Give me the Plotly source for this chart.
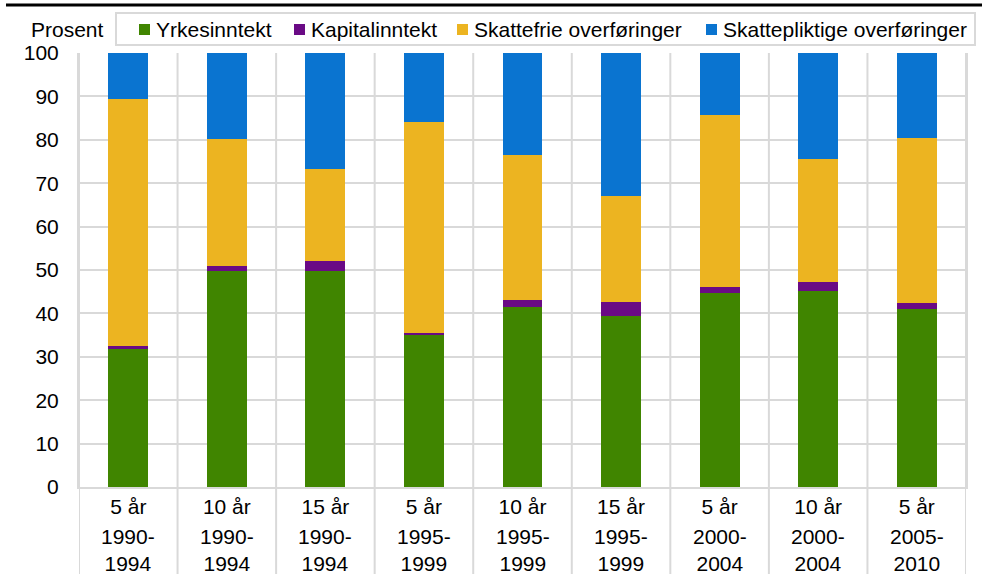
import plotly.graph_objects as go

# Categories: horizon and period
durations = ["5 år", "10 år", "15 år", "5 år", "10 år", "15 år", "5 år", "10 år", "5 år"]
periods = ["1990-<br>1994", "1990-<br>1994", "1990-<br>1994", "1995-<br>1999", "1995-<br>1999",
           "1995-<br>1999", "2000-<br>2004", "2000-<br>2004", "2005-<br>2010"]

# Income composition, percent of total
yrkesinntekt = [31.7, 49.8, 49.8, 35.2, 41.4, 39.5, 44.6, 45.2, 41.1]
kapitalinntekt = [0.9, 1.2, 2.3, 0.2, 1.8, 3.1, 1.5, 2.1, 1.3]
skattefrie = [56.8, 29.1, 21.1, 48.8, 33.3, 24.5, 39.6, 28.3, 38.1]
skattepliktige = [10.6, 19.9, 26.8, 15.8, 23.5, 32.9, 14.3, 24.4, 19.5]

series_names = ["Yrkesinntekt", "Kapitalinntekt", "Skattefrie overføringer", "Skattepliktige overføringer"]
series_values = [yrkesinntekt, kapitalinntekt, skattefrie, skattepliktige]
series_colors = ["#408500", "#6a0a85", "#ecb421", "#0a74d0"]

FONT = "Liberation Sans, Arial, sans-serif"
FS = 21
GRID = "#d9d9d9"

x = list(range(len(durations)))

fig = go.Figure()
for name, vals, color in zip(series_names, series_values, series_colors):
    fig.add_trace(go.Bar(
        x=x, y=vals, name=name,
        marker=dict(color=color, line=dict(width=0)),
        width=0.405, showlegend=False,
    ))

W, H = 982, 574
ml, mr, mt, mb = 79, 16, 53, 87
plot_w = W - ml - mr
plot_h = H - mt - mb


def px(v):
    """Horizontal pixel offset from the plot's left edge -> paper fraction."""
    return v / plot_w


def py(v):
    """Vertical pixel offset above the plot's top edge -> paper fraction."""
    return 1 + v / plot_h


shapes = []
# vertical separators running through the category label area
for i in range(len(durations) + 1):
    shapes.append(dict(type="line", xref="x", yref="paper",
                       x0=i - 0.5, x1=i - 0.5, y0=-mb / plot_h, y1=1,
                       line=dict(color=GRID, width=2), layer="below"))
# rule across the top
shapes.append(dict(type="line", xref="paper", yref="paper",
                   x0=px(-73), x1=px(W - ml), y0=py(48), y1=py(48),
                   line=dict(color="#000000", width=3)))

annotations = [dict(text="Prosent", xref="paper", yref="paper",
                    x=px(27), y=py(23), xanchor="right", yanchor="middle",
                    showarrow=False, font=dict(family=FONT, size=FS, color="#000000"))]
for i, p in enumerate(periods):
    annotations.append(dict(text=p, xref="x", yref="paper", x=i,
                            y=-36 / plot_h, xanchor="center", yanchor="top",
                            showarrow=False,
                            font=dict(family=FONT, size=FS, color="#000000")))

# legend box with colour keys
shapes.append(dict(type="rect", xref="paper", yref="paper",
                   x0=px(37), x1=px(896), y0=py(8), y1=py(40),
                   line=dict(color=GRID, width=2), fillcolor="white"))
key_left = [60, 215, 378, 627]
for left, name, color in zip(key_left, series_names, series_colors):
    shapes.append(dict(type="rect", xref="paper", yref="paper",
                       x0=px(left), x1=px(left + 11), y0=py(18), y1=py(29),
                       line=dict(width=0), fillcolor=color))
    annotations.append(dict(text=name, xref="paper", yref="paper",
                            x=px(left + 15), y=py(24), xanchor="left", yanchor="middle",
                            showarrow=False,
                            font=dict(family=FONT, size=FS, color="#000000")))

fig.update_layout(
    width=W, height=H,
    margin=dict(l=ml, r=mr, t=mt, b=mb),
    barmode="stack",
    paper_bgcolor="white", plot_bgcolor="white",
    font=dict(family=FONT, size=FS, color="#000000"),
    showlegend=False,
    shapes=shapes,
    annotations=annotations,
)
fig.update_xaxes(
    range=[-0.5, len(durations) - 0.5],
    tickmode="array", tickvals=x, ticktext=durations,
    showgrid=False, zeroline=False,
    showline=True, linecolor=GRID, linewidth=2,
    ticks="", ticklabelstandoff=0,
    tickfont=dict(family=FONT, size=FS, color="#000000"),
    fixedrange=True,
)
fig.update_yaxes(
    range=[0, 100], dtick=10, tick0=0,
    showgrid=True, gridcolor=GRID, gridwidth=2,
    zeroline=False, showline=True, linecolor=GRID, linewidth=2,
    mirror=True,
    ticks="", ticklabelstandoff=14,
    tickfont=dict(family=FONT, size=FS, color="#000000"),
    fixedrange=True,
)

fig.write_html("out.html")
